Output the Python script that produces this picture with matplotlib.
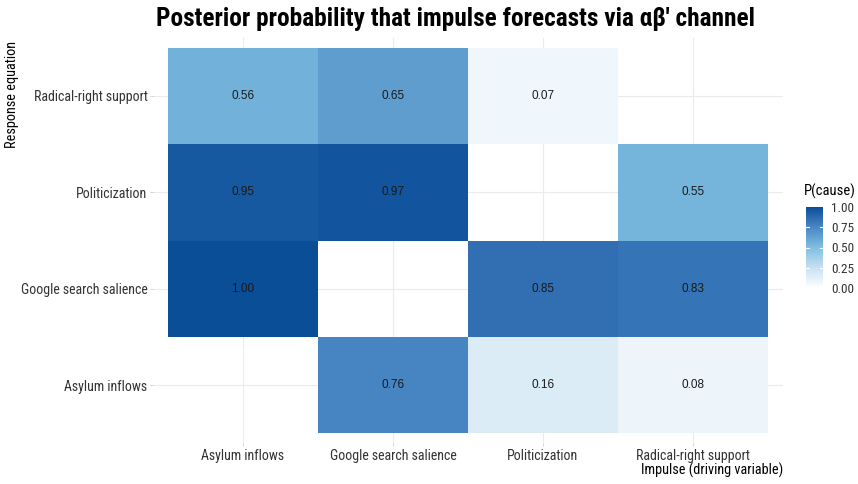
import numpy as np
import matplotlib
matplotlib.use("Agg")
import matplotlib.pyplot as plt
from matplotlib.colors import LinearSegmentedColormap

plt.rcParams["font.family"] = ["Roboto Condensed", "DejaVu Sans"]

impulses = ["Asylum inflows", "Google search salience", "Politicization", "Radical-right support"]
responses = ["Asylum inflows", "Google search salience", "Politicization", "Radical-right support"]

# rows follow responses (bottom to top), columns follow impulses
p_asylum = [np.nan, 0.76, 0.16, 0.08]
p_google = [1.00, np.nan, 0.85, 0.83]
p_politic = [0.95, 0.97, np.nan, 0.55]
p_radical = [0.56, 0.65, 0.07, np.nan]
vals = np.array([p_asylum, p_google, p_politic, p_radical])

cmap = LinearSegmentedColormap.from_list(
    "pcause", ["#FFFFFF", "#C6E0F2", "#7FBFE1", "#4A86C4", "#0B4E98"])

fig = plt.figure(figsize=(8.58, 4.84), dpi=100)
ax = fig.add_axes([153 / 858, 1 - 443 / 484, (783 - 153) / 858, (443 - 38) / 484])

ax.set_xlim(-0.6, 3.6)
ax.set_ylim(-0.6, 3.6)
ax.set_xticks(range(4))
ax.set_yticks(range(4))
ax.grid(True, color="#EBEBEB", lw=0.8)
ax.set_axisbelow(True)

masked = np.ma.masked_invalid(vals)
mesh = ax.pcolormesh(np.arange(-0.5, 4), np.arange(-0.5, 4), masked,
                     cmap=cmap, vmin=0, vmax=1, zorder=2)

for i in range(4):
    for j in range(4):
        if not np.isnan(vals[i, j]):
            ax.text(j, i, f"{vals[i, j]:.2f}", ha="center", va="center",
                    fontsize=8.5, color="#1A1A1A", family=["Liberation Sans"], zorder=3)

ax.set_xticklabels(impulses, fontsize=10, color="#333333")
ax.set_yticklabels(responses, fontsize=10, color="#333333")
ax.tick_params(length=2.5, color="#CCCCCC", width=0.6, pad=1.5)
for s in ax.spines.values():
    s.set_visible(False)

fig.text(455 / 858, 1 - 19 / 484, "Posterior probability that impulse forecasts via αβ' channel",
         ha="center", va="center", fontsize=18.3, fontweight="bold")
fig.text(783 / 858, 1 - 470 / 484, "Impulse (driving variable)", ha="right", va="center",
         fontsize=10.3)
fig.text(12 / 858, 1 - 41 / 484, "Response equation", ha="center", va="top",
         rotation=90, fontsize=10.3)

cax = fig.add_axes([806 / 858, 1 - 288 / 484, 17 / 858, 81 / 484])
cb = fig.colorbar(mesh, cax=cax, ticks=[0, 0.25, 0.5, 0.75, 1.0])
cb.outline.set_visible(False)
cb.ax.set_yticklabels(["0.00", "0.25", "0.50", "0.75", "1.00"], fontsize=9.5, color="#333333")
cb.ax.tick_params(length=0, pad=6)
for t in [0.25, 0.5, 0.75]:
    cb.ax.axhline(t, color="white", lw=0.8, xmin=0, xmax=0.2)
    cb.ax.axhline(t, color="white", lw=0.8, xmin=0.8, xmax=1)
fig.text(804 / 858, 1 - 191 / 484, "P(cause)", ha="left", va="center", fontsize=10.5)

fig.savefig("out.png", dpi=100)
